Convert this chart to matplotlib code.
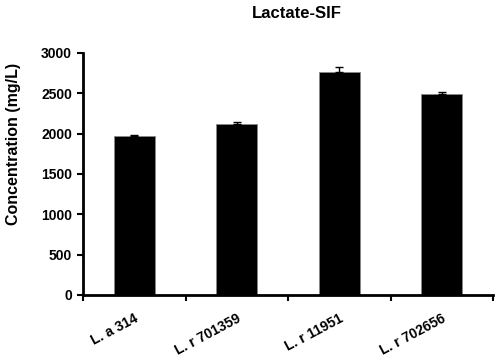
import numpy as np
import matplotlib.pyplot as plt

# Lactate in SIF, per strain
strains = ['L. a 314', 'L. r 701359', 'L. r 11951', 'L. r 702656']
lactate = [1972, 2120, 2765, 2492]
err = [5, 20, 55, 20]

plt.rcParams['font.family'] = ['Liberation Sans', 'DejaVu Sans']
plt.rcParams['font.weight'] = 'bold'

fig = plt.figure(figsize=(5, 3.57), dpi=100)
ax = fig.add_axes([0.166, 0.174, 0.82, 0.678])

x = np.arange(len(strains))
ax.bar(x, lactate, width=0.4, color='black', edgecolor='#888888', linewidth=0.6,
       yerr=[np.zeros(len(err)), err], error_kw=dict(ecolor='black', elinewidth=1, capsize=3, capthick=1))

ax.set_xlim(-0.5, len(strains) - 0.5)
ax.set_ylim(0, 3000)
ax.set_yticks(np.arange(0, 3001, 500))
ax.set_xticks(np.arange(-0.5, len(strains), 1.0))
ax.set_xticklabels([])
ax.set_xticks(x, minor=True)
ax.set_xticklabels(strains, minor=True, rotation=28, ha='right', rotation_mode='anchor', fontsize=10)
ax.tick_params(axis='x', which='minor', length=0, pad=12)
ax.tick_params(axis='x', which='major', direction='out', length=4, width=1.5)
ax.tick_params(axis='y', direction='out', length=4, width=1.5, labelsize=10, pad=4)

for s in ['top', 'right']:
    ax.spines[s].set_visible(False)
for s in ['left', 'bottom']:
    ax.spines[s].set_linewidth(2)

fig.text(13.5 / 500, 1 - 144 / 357, 'Concentration (mg/L)', rotation=90, fontsize=11.5,
         fontweight='bold', ha='center', va='center')
fig.text(0.593, 0.95, 'Lactate-SIF', fontsize=12, fontweight='bold', ha='center', va='baseline')

fig.savefig('out.png', dpi=100)
